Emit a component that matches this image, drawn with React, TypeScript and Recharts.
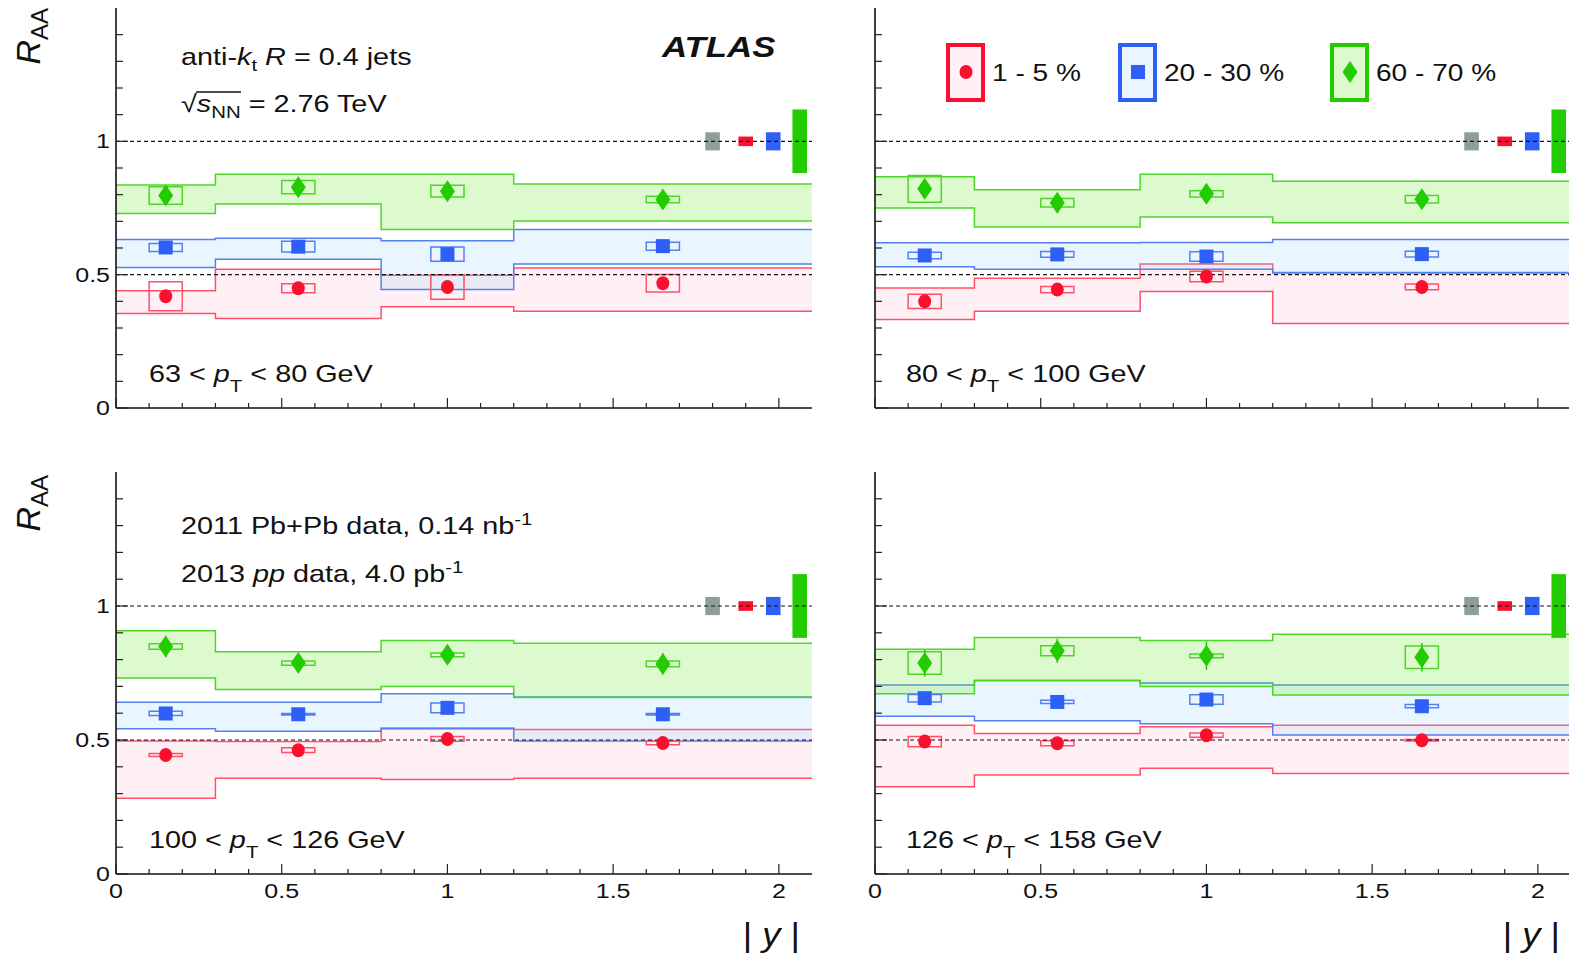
import React from "react";
import {
  ComposedChart,
  Area,
  Scatter,
  XAxis,
  YAxis,
  ReferenceArea,
  ReferenceLine,
  ErrorBar,
} from "recharts";

// |y| binning, shared by all four pT panels
const binEdges = [0, 0.3, 0.8, 1.2, 2.1];
const binCenters = [0.15, 0.55, 1.0, 1.65];
const boxHalfWidth = 0.05;

const xTicks = [0, 0.1, 0.2, 0.3, 0.4, 0.5, 0.6, 0.7, 0.8, 0.9, 1, 1.1, 1.2, 1.3, 1.4, 1.5, 1.6, 1.7, 1.8, 1.9, 2];
const yTicks = [0, 0.1, 0.2, 0.3, 0.4, 0.5, 0.6, 0.7, 0.8, 0.9, 1, 1.1, 1.2, 1.3, 1.4];
const xTickLabels = [0, 0.5, 1, 1.5, 2];
const yTickLabels = [0, 0.5, 1];

const centralities = ["1 - 5 %", "20 - 30 %", "60 - 70 %"];
const ptRanges = [
  ["63", "80"],
  ["80", "100"],
  ["100", "126"],
  ["126", "158"],
];

// R_AA values, one row per pT panel, one column per |y| bin
const raa1to5 = [
  [0.419, 0.449, 0.454, 0.468],
  [0.4, 0.444, 0.493, 0.454],
  [0.444, 0.462, 0.504, 0.489],
  [0.494, 0.488, 0.518, 0.499],
];
const raa20to30 = [
  [0.602, 0.605, 0.577, 0.607],
  [0.572, 0.576, 0.568, 0.577],
  [0.599, 0.596, 0.62, 0.596],
  [0.656, 0.642, 0.651, 0.626],
];
const raa60to70 = [
  [0.797, 0.828, 0.813, 0.782],
  [0.822, 0.77, 0.803, 0.783],
  [0.849, 0.787, 0.818, 0.784],
  [0.787, 0.833, 0.814, 0.809],
];

// uncorrelated systematics (open boxes, half height)
const box1to5 = [
  [0.054, 0.017, 0.046, 0.033],
  [0.027, 0.012, 0.02, 0.011],
  [0.006, 0.009, 0.009, 0.007],
  [0.019, 0.009, 0.008, 0.003],
];
const box20to30 = [
  [0.015, 0.02, 0.027, 0.015],
  [0.012, 0.011, 0.018, 0.011],
  [0.008, 0.003, 0.018, 0.003],
  [0.014, 0.006, 0.018, 0.006],
];
const box60to70 = [
  [0.033, 0.025, 0.022, 0.012],
  [0.05, 0.016, 0.012, 0.014],
  [0.01, 0.008, 0.007, 0.011],
  [0.042, 0.019, 0.007, 0.042],
];

// statistical errors
const stat1to5 = [
  [0.02, 0.015, 0.02, 0.02],
  [0.02, 0.015, 0.02, 0.02],
  [0.015, 0.015, 0.015, 0.015],
  [0.02, 0.02, 0.02, 0.02],
];
const stat20to30 = [
  [0.02, 0.02, 0.02, 0.02],
  [0.02, 0.02, 0.02, 0.02],
  [0.02, 0.02, 0.02, 0.02],
  [0.025, 0.025, 0.025, 0.025],
];
const stat60to70 = [
  [0.03, 0.03, 0.03, 0.03],
  [0.03, 0.03, 0.03, 0.03],
  [0.04, 0.035, 0.035, 0.04],
  [0.05, 0.045, 0.053, 0.053],
];

// correlated systematics (shaded bands), low / high edge per bin
const lo1to5 = [
  [0.354, 0.336, 0.38, 0.363],
  [0.332, 0.363, 0.437, 0.317],
  [0.283, 0.357, 0.353, 0.357],
  [0.326, 0.369, 0.395, 0.375],
];
const hi1to5 = [
  [0.44, 0.52, 0.498, 0.525],
  [0.45, 0.487, 0.54, 0.506],
  [0.496, 0.494, 0.545, 0.539],
  [0.555, 0.524, 0.549, 0.555],
];
const lo20to30 = [
  [0.527, 0.558, 0.444, 0.54],
  [0.53, 0.52, 0.52, 0.508],
  [0.542, 0.533, 0.542, 0.496],
  [0.589, 0.572, 0.561, 0.519],
];
const hi20to30 = [
  [0.632, 0.637, 0.627, 0.669],
  [0.62, 0.62, 0.621, 0.632],
  [0.641, 0.641, 0.673, 0.66],
  [0.705, 0.722, 0.713, 0.705],
];
const lo60to70 = [
  [0.729, 0.765, 0.669, 0.701],
  [0.75, 0.679, 0.716, 0.695],
  [0.731, 0.688, 0.7, 0.659],
  [0.673, 0.722, 0.7, 0.668],
];
const hi60to70 = [
  [0.836, 0.877, 0.877, 0.84],
  [0.867, 0.818, 0.877, 0.85],
  [0.908, 0.829, 0.871, 0.861],
  [0.839, 0.882, 0.871, 0.895],
];

// global uncertainties drawn at R_AA = 1 (grey, 1-5, 20-30, 60-70)
const globalX = [1.8, 1.9, 1.983, 2.063];
const globalErr = [0.034, 0.018, 0.034, 0.119];
const globalHalfWidth = 0.022;

const RED = { marker: "#fb0f2f", line: "#ff5068", fill: "#ff88b0", opacity: 0.13, shape: "circle" };
const BLUE = { marker: "#2e5ff6", line: "#5580f0", fill: "#90cfff", opacity: 0.19, shape: "square" };
const GREEN = { marker: "#22cc00", line: "#4cd62a", fill: "#66e622", opacity: 0.22, shape: "diamond" };
const styles = [RED, BLUE, GREEN];
const globalColors = ["#8f9e9c", RED.marker, BLUE.marker, GREEN.marker];

const FONT = '"Liberation Sans", Arial, Helvetica, sans-serif';
const SX = 1.2;

const isMajor = (v: number) => Math.abs(v * 2 - Math.round(v * 2)) < 1e-6;

const Txt = ({ x, y, size, anchor = "start", rotate = 0, sx = SX, weight, italic, children }: any) => (
  <text
    transform={`translate(${x} ${y}) rotate(${rotate}) scale(${sx} 1)`}
    fontSize={size}
    textAnchor={anchor}
    fontWeight={weight}
    fontStyle={italic ? "italic" : undefined}
    fontFamily={FONT}
    fill="#111"
  >
    {children}
  </text>
);

const Marker = ({ kind, cx, cy, color }: any) => {
  if (kind === "circle") return <ellipse cx={cx} cy={cy} rx={6.5} ry={7} fill={color} />;
  if (kind === "square") return <rect x={cx - 7} y={cy - 7} width={14} height={14} fill={color} />;
  return <path d={`M${cx},${cy - 11}L${cx + 7.5},${cy}L${cx},${cy + 11}L${cx - 7.5},${cy}Z`} fill={color} />;
};

const xTick = (side: string, labels: boolean) => (props: any) => {
  const { x, y, payload } = props;
  const v = payload.value;
  const len = isMajor(v) ? 10 : 5;
  const dir = side === "bottom" ? -1 : 1;
  return (
    <g>
      <line x1={x} y1={y} x2={x} y2={y + dir * len} stroke="#222" strokeWidth={1.2} />
      {labels && xTickLabels.includes(v) && (
        <Txt x={x} y={y + 24} size={20} sx={1.25} anchor="middle">
          {String(v)}
        </Txt>
      )}
    </g>
  );
};

const yTick = (side: string, labels: boolean) => (props: any) => {
  const { x, y, payload } = props;
  const v = payload.value;
  const len = isMajor(v) ? 12 : 7;
  const dir = side === "left" ? 1 : -1;
  return (
    <g>
      <line x1={x} y1={y} x2={x + dir * len} y2={y} stroke="#222" strokeWidth={1.2} />
      {labels && yTickLabels.includes(v) && (
        <Txt x={x - 6} y={y + 7} size={20} sx={1.25} anchor="end">
          {String(v)}
        </Txt>
      )}
    </g>
  );
};

const Panel = ({ p, left, top, plotH, showX, showY }: any) => {
  const sets = [
    { raa: raa1to5[p], box: box1to5[p], lo: lo1to5[p], hi: hi1to5[p], stat: stat1to5[p] },
    { raa: raa20to30[p], box: box20to30[p], lo: lo20to30[p], hi: hi20to30[p], stat: stat20to30[p] },
    { raa: raa60to70[p], box: box60to70[p], lo: lo60to70[p], hi: hi60to70[p], stat: stat60to70[p] },
  ];
  const axisLine = { stroke: "#111", strokeWidth: 1.6 };
  return (
    <div style={{ position: "absolute", left, top }}>
      <ComposedChart width={830} height={8 + plotH + 32} margin={{ top: 8, right: 18, bottom: 0, left: 0 }}>
        <XAxis
          dataKey="x"
          type="number"
          domain={[0, 2.1]}
          ticks={xTicks}
          interval={0}
          tickSize={0}
          tickMargin={0}
          tickLine={false}
          height={32}
          allowDataOverflow
          axisLine={axisLine}
          tick={xTick("bottom", showX)}
        />
        <XAxis
          xAxisId="top"
          orientation="top"
          type="number"
          domain={[0, 2.1]}
          ticks={xTicks}
          interval={0}
          tickSize={0}
          tickMargin={0}
          tickLine={false}
          height={0}
          allowDataOverflow
          axisLine={axisLine}
          tick={xTick("top", false)}
        />
        <YAxis
          type="number"
          domain={[0, 1.5]}
          ticks={yTicks}
          interval={0}
          tickSize={0}
          tickMargin={0}
          tickLine={false}
          width={116}
          allowDataOverflow
          axisLine={axisLine}
          tick={yTick("left", showY)}
        />
        <YAxis
          yAxisId="right"
          orientation="right"
          type="number"
          domain={[0, 1.5]}
          ticks={yTicks}
          interval={0}
          tickSize={0}
          tickMargin={0}
          tickLine={false}
          width={0}
          allowDataOverflow
          axisLine={axisLine}
          tick={yTick("right", false)}
        />

        {sets.map((s, c) => (
          <Area
            key={`band-${c}`}
            data={binEdges.map((x, i) => ({ x, band: [s.lo[Math.min(i, 3)], s.hi[Math.min(i, 3)]] }))}
            dataKey="band"
            type="stepAfter"
            stroke={styles[c].line}
            strokeWidth={1.5}
            fill={styles[c].fill}
            fillOpacity={styles[c].opacity}
            dot={false}
            activeDot={false}
            legendType="none"
            isAnimationActive={false}
          />
        ))}

        <ReferenceLine y={1} stroke="#111" strokeWidth={1.2} strokeDasharray="4 3" />
        <ReferenceLine y={0.5} stroke="#111" strokeWidth={1.2} strokeDasharray="4 3" />

        {sets.map((s, c) =>
          binCenters.map((x, i) => (
            <ReferenceArea
              key={`box-${c}-${i}`}
              x1={x - boxHalfWidth}
              x2={x + boxHalfWidth}
              y1={s.raa[i] - s.box[i]}
              y2={s.raa[i] + s.box[i]}
              fill="none"
              fillOpacity={0}
              stroke={styles[c].line}
              strokeWidth={1.5}
            />
          ))
        )}

        {globalX.map((x, g) => (
          <ReferenceArea
            key={`global-${g}`}
            x1={x - globalHalfWidth}
            x2={x + globalHalfWidth}
            y1={1 - globalErr[g]}
            y2={1 + globalErr[g]}
            fill={globalColors[g]}
            fillOpacity={1}
            stroke="none"
          />
        ))}

        {sets.map((s, c) => (
          <Scatter
            key={`pts-${c}`}
            name={centralities[c]}
            data={binCenters.map((x, i) => ({ x, v: s.raa[i], stat: s.stat[i] }))}
            dataKey="v"
            fill={styles[c].marker}
            legendType="none"
            isAnimationActive={false}
            shape={(pp: any) => <Marker kind={styles[c].shape} cx={pp.cx} cy={pp.cy} color={styles[c].marker} />}
          >
            <ErrorBar dataKey="stat" direction="y" width={0} stroke={styles[c].marker} strokeWidth={1.5} />
          </Scatter>
        ))}
      </ComposedChart>
    </div>
  );
};

const PtLabel = ({ x, y, p }: any) => (
  <Txt x={x} y={y} size={24}>
    {`${ptRanges[p][0]} < `}
    <tspan fontStyle="italic">p</tspan>
    <tspan dy={10} fontSize={17}>T</tspan>
    <tspan dy={-10}>{` < ${ptRanges[p][1]} GeV`}</tspan>
  </Txt>
);

const LegendItem = ({ c, x }: any) => (
  <g>
    <rect x={x + 2} y={45} width={35} height={55} fill={styles[c].fill} fillOpacity={styles[c].opacity} stroke={styles[c].marker} strokeWidth={4} />
    <Marker kind={styles[c].shape} cx={x + 20} cy={72} color={styles[c].marker} />
    <Txt x={x + 46} y={81} size={24} sx={1.17}>
      {centralities[c]}
    </Txt>
  </g>
);

const Overlay = () => (
  <svg width={1569} height={957} style={{ position: "absolute", left: 0, top: 0, pointerEvents: "none" }}>
    {/* axis titles */}
    {[8, 475].map((y) => (
      <text key={y} transform={`translate(40 ${y}) rotate(-90)`} textAnchor="end" fontFamily={FONT} fill="#111">
        <tspan fontSize={34} fontStyle="italic">R</tspan>
        <tspan fontSize={24} dy={8}>AA</tspan>
      </text>
    ))}
    {[800, 1560].map((x) => (
      <Txt key={x} x={x} y={946} size={33} sx={1.1} anchor="end">
        {"| "}
        <tspan fontStyle="italic">y</tspan>
        {" |"}
      </Txt>
    ))}

    {/* panel 1 */}
    <Txt x={181} y={65} size={24}>
      {"anti-"}
      <tspan fontStyle="italic">k</tspan>
      <tspan dy={6} fontSize={17}>t</tspan>
      <tspan dy={-6}>
        {" "}
        <tspan fontStyle="italic">R</tspan>
        {" = 0.4 jets"}
      </tspan>
    </Txt>
    <g transform="translate(181 112) scale(1.2 1)">
      <text fontSize={24} fontFamily={FONT} fill="#111">
        {"√"}
        <tspan fontStyle="italic">s</tspan>
        <tspan dy={6} fontSize={17}>NN</tspan>
        <tspan dy={-6}>{" = 2.76 TeV"}</tspan>
      </text>
      <line x1={12.5} x2={50} y1={-20} y2={-20} stroke="#111" strokeWidth={1.4} />
    </g>
    <Txt x={662} y={57} size={29} weight="bold" italic>
      ATLAS
    </Txt>
    <PtLabel x={149} y={382} p={0} />

    {/* panel 2 legend */}
    <LegendItem c={0} x={946} />
    <LegendItem c={1} x={1118} />
    <LegendItem c={2} x={1330} />
    <PtLabel x={906} y={382} p={1} />

    {/* panel 3 */}
    <Txt x={181} y={534} size={24}>
      {"2011 Pb+Pb data, 0.14 nb"}
      <tspan dy={-9} fontSize={17}>-1</tspan>
    </Txt>
    <Txt x={181} y={582} size={24}>
      {"2013 "}
      <tspan fontStyle="italic">pp</tspan>
      {" data, 4.0 pb"}
      <tspan dy={-9} fontSize={17}>-1</tspan>
    </Txt>
    <PtLabel x={149} y={848} p={2} />

    {/* panel 4 */}
    <PtLabel x={906} y={848} p={3} />
  </svg>
);

export default function App() {
  return (
    <div
      style={{
        position: "absolute",
        left: 0,
        top: 0,
        width: 1569,
        height: 957,
        overflow: "hidden",
        background: "#fff",
        fontFamily: FONT,
      }}
    >
      <Panel p={0} left={0} top={0} plotH={400} showX={false} showY={true} />
      <Panel p={1} left={759} top={0} plotH={400} showX={false} showY={false} />
      <Panel p={2} left={0} top={464} plotH={402} showX={true} showY={true} />
      <Panel p={3} left={759} top={464} plotH={402} showX={true} showY={false} />
      <Overlay />
    </div>
  );
}
